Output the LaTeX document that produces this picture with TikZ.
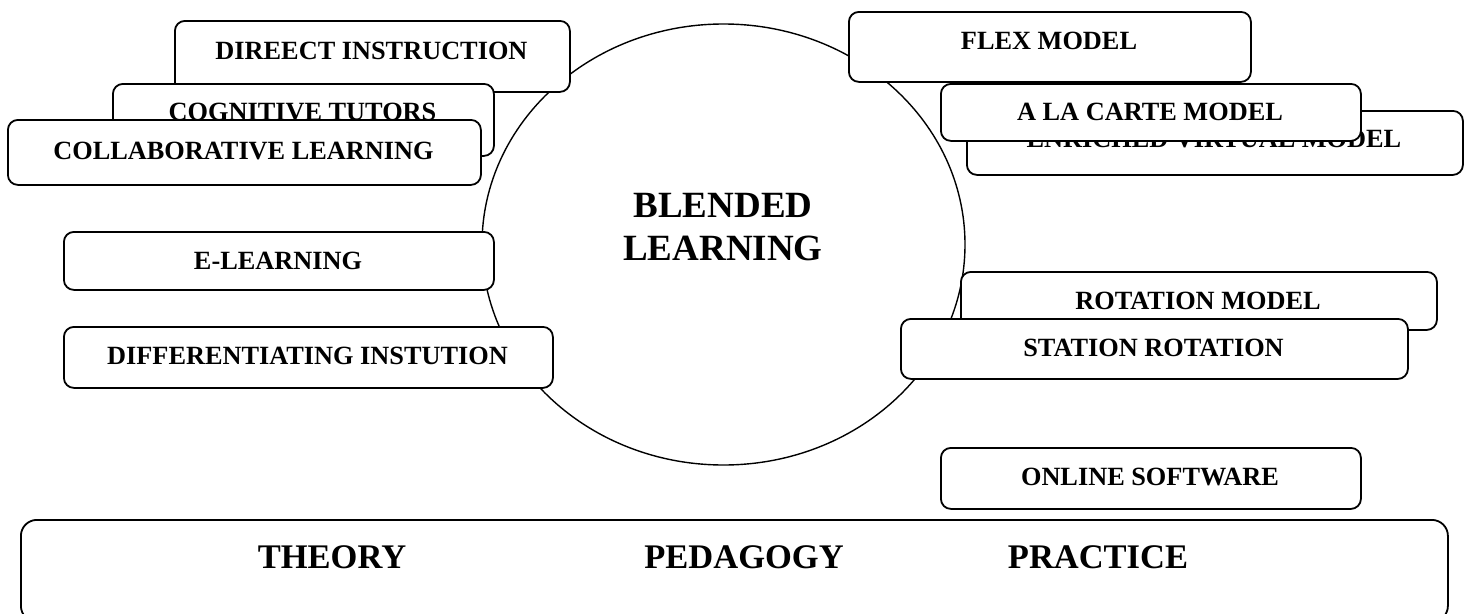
\documentclass[tikz,border=0pt]{standalone}
\usepackage{fontspec}
\setmainfont{Liberation Serif}
\usetikzlibrary{shapes.geometric}
\tikzset{
  box/.style={draw=black, fill=white, rounded corners=10pt, line width=1.8pt, inner sep=0pt, anchor=north west},
  bigbox/.style={draw=black, fill=white, rounded corners=16pt, line width=1.8pt, inner sep=0pt, anchor=north west},
  lbl/.style={font=\bfseries\fontsize{26.3}{30}\selectfont, inner sep=0pt, text=black},
  biglbl/.style={font=\bfseries\fontsize{34.5}{40}\selectfont, inner sep=0pt, text=black},
  hub/.style={draw=black, fill=white, ellipse, line width=1.4pt, inner sep=0pt},
  hublbl/.style={font=\bfseries\fontsize{37}{43}\selectfont, inner sep=0pt, align=center, text=black}
}
\begin{document}
\begin{tikzpicture}[x=1pt, y=-1pt]
\useasboundingbox (0,0) rectangle (1469,613);
\fill[white] (0,0) rectangle (1469,613);
% central ellipse
\node[hub, minimum width=483pt, minimum height=441pt] (bl) at (723.5,244.5) {};
\node[hublbl] (blt) at (723,227) {BLENDED\\LEARNING};
% left group
\node[box, minimum width=395pt, minimum height=71pt] (di) at (174,20) {};
\node[lbl] (dit) at (371.5,51) {DIREECT INSTRUCTION};
\node[box, minimum width=381pt, minimum height=72pt] (ct) at (112,83) {};
\node[lbl] (ctt) at (302.5,112) {COGNITIVE TUTORS};
\node[box, minimum width=473pt, minimum height=65pt] (cl) at (7,119) {};
\node[lbl] (clt) at (243.5,151) {COLLABORATIVE LEARNING};
\node[box, minimum width=430pt, minimum height=58pt] (el) at (63,231) {};
\node[lbl] (elt) at (278,261) {E-LEARNING};
\node[box, minimum width=489pt, minimum height=61pt] (dif) at (63,326) {};
\node[lbl] (dift) at (307.5,356) {DIFFERENTIATING INSTUTION};
% right group
\node[box, minimum width=402pt, minimum height=70pt] (fx) at (848,11) {};
\node[lbl] (fxt) at (1049,41) {FLEX MODEL};
\node[box, minimum width=496pt, minimum height=64pt] (ev) at (966,110) {};
\node[lbl] (evt) at (1214,139) {ENRICHED VIRTUAL MODEL};
\node[box, minimum width=420pt, minimum height=57pt] (ac) at (940,83) {};
\node[lbl] (act) at (1150,112) {A LA CARTE MODEL};
\node[box, minimum width=476pt, minimum height=58pt] (rm) at (960,271) {};
\node[lbl] (rmt) at (1198,301) {ROTATION MODEL};
\node[box, minimum width=507pt, minimum height=60pt] (sr) at (900,318) {};
\node[lbl] (srt) at (1153.5,348) {STATION ROTATION};
\node[box, minimum width=420pt, minimum height=61pt] (os) at (940,447) {};
\node[lbl] (ost) at (1150,477) {ONLINE SOFTWARE};
% bottom band
\node[bigbox, minimum width=1427pt, minimum height=102pt] (base) at (20,519) {};
\node[biglbl] (th) at (332,557) {THEORY};
\node[biglbl] (pe) at (744,557) {PEDAGOGY};
\node[biglbl] (pr) at (1098,557) {PRACTICE};
\end{tikzpicture}
\end{document}
